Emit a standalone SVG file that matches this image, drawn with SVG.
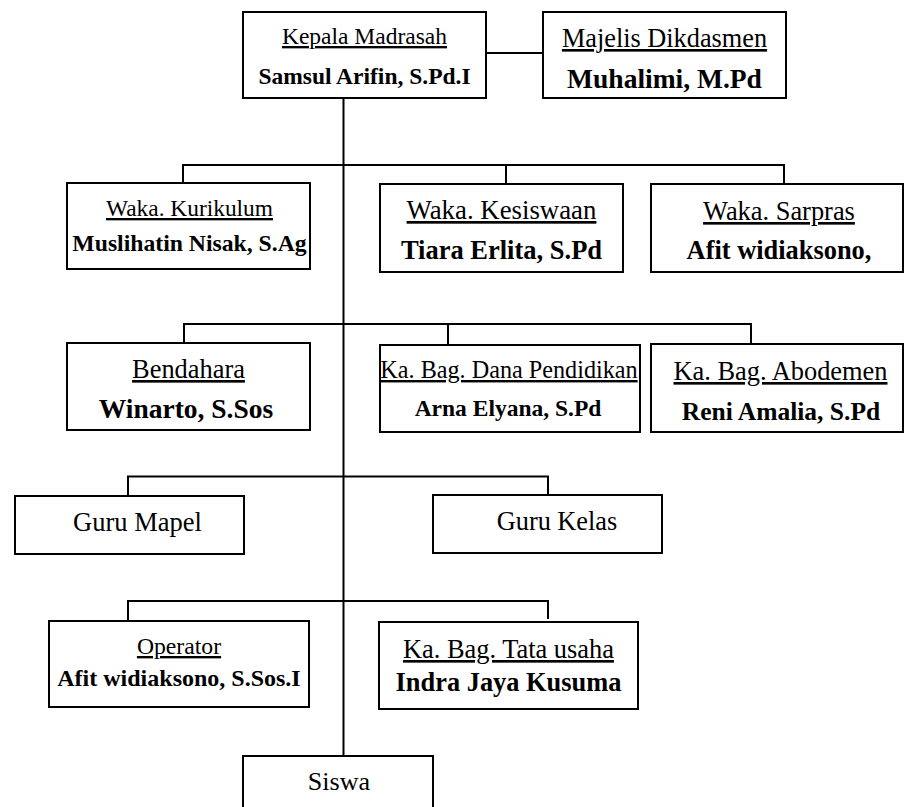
<svg xmlns="http://www.w3.org/2000/svg" width="904" height="807" viewBox="0 0 904 807">
<style>
.box{fill:#fff;stroke:#000;stroke-width:2}
.ln{stroke:#000;stroke-width:2;fill:none}
.t{font-family:"Liberation Serif","Times New Roman",serif;text-anchor:middle;fill:#000}
.u{text-decoration:underline}
.b{font-weight:bold}
</style>
<rect width="904" height="807" fill="#fff"/>
<g id="connectors">
<line class="ln" x1="486" y1="53" x2="543" y2="53"/>
<line class="ln" x1="343.5" y1="98" x2="343.5" y2="756"/>
<polyline class="ln" points="183,183 183,165 784,165 784,184"/>
<line class="ln" x1="506" y1="165" x2="506" y2="184"/>
<polyline class="ln" points="184,343 184,324 751,324 751,344"/>
<line class="ln" x1="448" y1="324" x2="448" y2="345"/>
<polyline class="ln" points="128,496 128,476.5 548,476.5 548,495"/>
<polyline class="ln" points="128,621 128,601 548,601 548,619"/>
</g>
<g id="kepala">
<rect class="box" x="243" y="12" width="243" height="86"/>
<text class="t u" x="364.5" y="44" font-size="23.5">Kepala Madrasah</text>
<text class="t b" x="364.5" y="84" font-size="23.5">Samsul Arifin, S.Pd.I</text>
</g>
<g id="majelis">
<rect class="box" x="543" y="12" width="243" height="86"/>
<text class="t u" x="664.5" y="47" font-size="26.3">Majelis Dikdasmen</text>
<text class="t b" x="664.5" y="88" font-size="27.5">Muhalimi, M.Pd</text>
</g>
<g id="kurikulum">
<rect class="box" x="67" y="183" width="243" height="86"/>
<text class="t u" x="189.5" y="216" font-size="23.4">Waka. Kurikulum</text>
<text class="t b" x="189.5" y="251" font-size="23.7">Muslihatin Nisak, S.Ag</text>
</g>
<g id="kesiswaan">
<rect class="box" x="380" y="184" width="243" height="88"/>
<text class="t u" x="501.5" y="219" font-size="26.8">Waka. Kesiswaan</text>
<text class="t b" x="501.5" y="259" font-size="26.5">Tiara Erlita, S.Pd</text>
</g>
<g id="sarpras">
<rect class="box" x="651" y="184" width="252" height="88"/>
<text class="t u" x="779" y="220" font-size="26.4">Waka. Sarpras</text>
<text class="t b" x="779" y="259" font-size="26.4">Afit widiaksono,</text>
</g>
<g id="bendahara">
<rect class="box" x="67" y="343" width="243" height="87"/>
<text class="t u" x="188.5" y="378" font-size="26.4">Bendahara</text>
<text class="t b" x="186" y="418" font-size="27.5">Winarto, S.Sos</text>
</g>
<g id="dana">
<rect class="box" x="380" y="345" width="260" height="87"/>
<text class="t u" x="509" y="378" font-size="24.2">Ka. Bag. Dana Pendidikan</text>
<text class="t b" x="508" y="416" font-size="23.5">Arna Elyana, S.Pd</text>
</g>
<g id="abodemen">
<rect class="box" x="651" y="344" width="252" height="88"/>
<text class="t u" x="780.5" y="380" font-size="26.4">Ka. Bag. Abodemen</text>
<text class="t b" x="781" y="420" font-size="25.5">Reni Amalia, S.Pd</text>
</g>
<g id="guru-mapel">
<rect class="box" x="15" y="496" width="229" height="58"/>
<text class="t" x="137.5" y="531" font-size="26.5">Guru Mapel</text>
</g>
<g id="guru-kelas">
<rect class="box" x="433" y="495" width="229" height="58"/>
<text class="t" x="557" y="530" font-size="26.3">Guru Kelas</text>
</g>
<g id="operator">
<rect class="box" x="49" y="621" width="260" height="86"/>
<text class="t u" x="179" y="654" font-size="23.7">Operator</text>
<text class="t b" x="179" y="686" font-size="24">Afit widiaksono, S.Sos.I</text>
</g>
<g id="tata-usaha">
<rect class="box" x="379" y="622" width="259" height="87"/>
<text class="t u" x="508.5" y="658" font-size="26.4">Ka. Bag. Tata usaha</text>
<text class="t b" x="508.5" y="691" font-size="26.4">Indra Jaya Kusuma</text>
</g>
<g id="siswa">
<rect class="box" x="243" y="756" width="190" height="60"/>
<text class="t" x="339" y="790" font-size="26.1">Siswa</text>
</g>
</svg>
